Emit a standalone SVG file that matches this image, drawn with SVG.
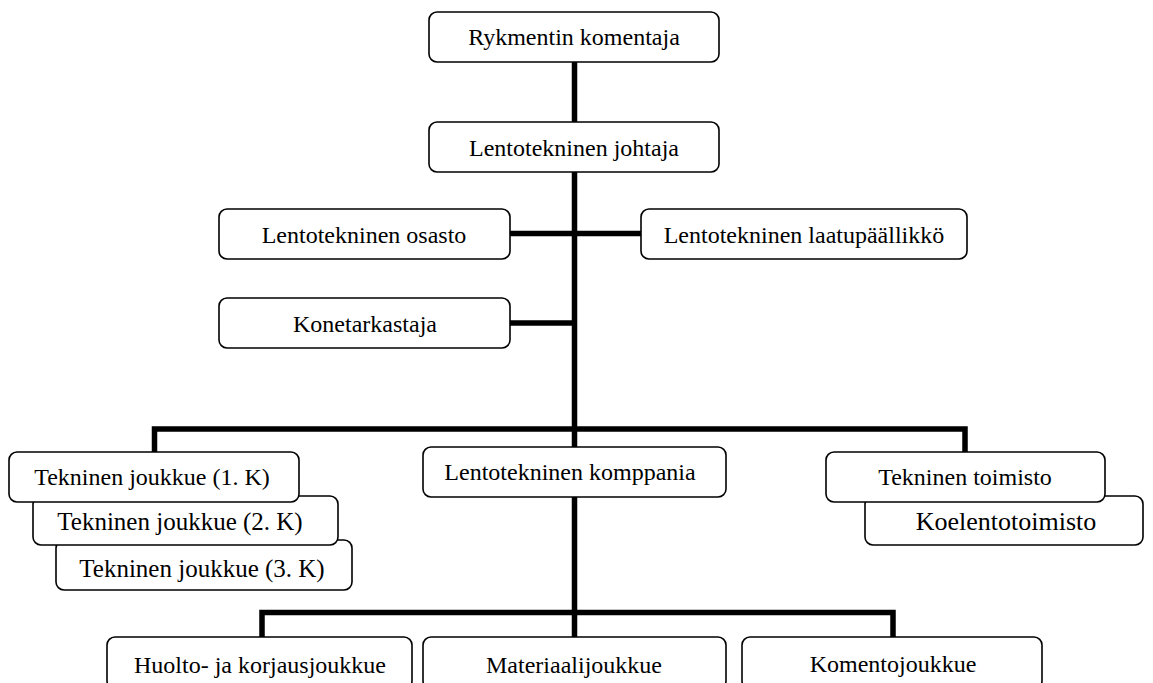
<svg xmlns="http://www.w3.org/2000/svg" width="1153" height="683" viewBox="0 0 1153 683">
<style>
.box{fill:#fff;stroke:#000;stroke-width:1.6}
.t{font-family:"Liberation Serif","Times New Roman",serif;font-size:24px;fill:#000;text-anchor:middle}
.c{fill:none;stroke:#000;stroke-width:5.5;stroke-linejoin:miter}
</style>
<rect width="1153" height="683" fill="#fff"/>
<g id="connectors">
<path class="c" d="M574.5 62V122M574.5 172V447M574.5 497V637"/>
<path class="c" d="M510 233.5H641M510 323H574.5"/>
<path class="c" d="M154.5 452V429H965V452"/>
<path class="c" d="M262 637V612.5H893V637"/>
</g>
<g id="n1"><rect class="box" x="429" y="12" width="290" height="50" rx="8"/><text class="t" x="574" y="45">Rykmentin komentaja</text></g>
<g id="n2"><rect class="box" x="429" y="122" width="290" height="50" rx="8"/><text class="t" x="574" y="156">Lentotekninen johtaja</text></g>
<g id="n3"><rect class="box" x="219" y="209" width="291" height="50" rx="8"/><text class="t" x="364" y="243">Lentotekninen osasto</text></g>
<g id="n4"><rect class="box" x="641" y="209" width="326" height="50" rx="8"/><text class="t" x="804" y="243">Lentotekninen laatupäällikkö</text></g>
<g id="n5"><rect class="box" x="219" y="298" width="291" height="50" rx="8"/><text class="t" x="365" y="332">Konetarkastaja</text></g>
<g id="n8"><rect class="box" x="56" y="540" width="296" height="50" rx="8"/><text class="t" x="202" y="577" style="font-size:25px">Tekninen joukkue (3. K)</text></g>
<g id="n7"><rect class="box" x="33" y="496" width="305" height="49" rx="8"/><text class="t" x="180" y="530" style="font-size:25px">Tekninen joukkue (2. K)</text></g>
<g id="n6"><rect class="box" x="9" y="452" width="290" height="50" rx="8"/><text class="t" x="152" y="485">Tekninen joukkue (1. K)</text></g>
<g id="n9"><rect class="box" x="423" y="447" width="303" height="50" rx="8"/><text class="t" x="570" y="480">Lentotekninen komppania</text></g>
<g id="n11"><rect class="box" x="865" y="496" width="278" height="49" rx="8"/><text class="t" x="1006" y="530" style="font-size:26px">Koelentotoimisto</text></g>
<g id="n10"><rect class="box" x="826" y="452" width="279" height="50" rx="8"/><text class="t" x="965" y="485">Tekninen toimisto</text></g>
<g id="n12"><rect class="box" x="107" y="637" width="305" height="52" rx="8"/><text class="t" x="260" y="673">Huolto- ja korjausjoukkue</text></g>
<g id="n13"><rect class="box" x="423" y="637" width="303" height="52" rx="8"/><text class="t" x="574" y="673">Materiaalijoukkue</text></g>
<g id="n14"><rect class="box" x="742" y="637" width="300" height="52" rx="8"/><text class="t" x="893" y="672">Komentojoukkue</text></g>
</svg>
